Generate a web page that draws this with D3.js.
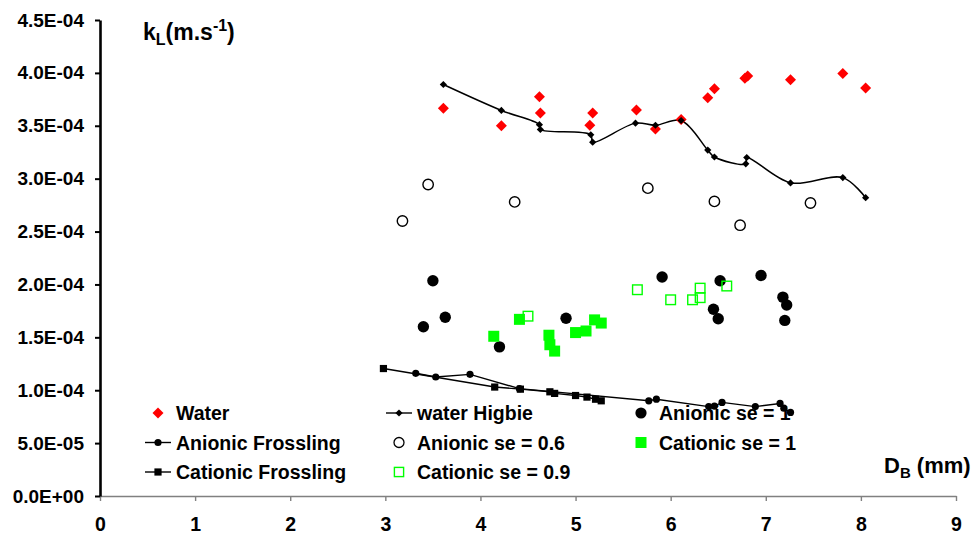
<!DOCTYPE html>
<html>
<head>
<meta charset="utf-8">
<script src="https://cdn.jsdelivr.net/npm/d3@7"></script>
<style>
  html, body { margin: 0; padding: 0; background: #fff; }
  svg { display: block; font-family: "Liberation Sans", Arial, sans-serif; font-weight: bold; }
</style>
</head>
<body>
<svg id="chart" width="975" height="534"></svg>
<script>
// Bubble diameter D_B (mm) and liquid-side mass transfer coefficient k_L (m/s)
const waterX = [3.61, 4.22, 4.62, 4.63, 5.18, 5.15, 5.64, 5.84, 6.11, 6.39, 6.46, 6.78, 6.81, 7.26, 7.81, 8.05];
const waterY = [3.665e-4, 3.50e-4, 3.775e-4, 3.62e-4, 3.62e-4, 3.505e-4, 3.65e-4, 3.47e-4, 3.56e-4, 3.765e-4, 3.85e-4, 3.95e-4, 3.97e-4, 3.935e-4, 3.995e-4, 3.857e-4];

const higbieX = [3.61, 4.22, 4.62, 4.63, 5.16, 5.18, 5.63, 5.84, 6.11, 6.39, 6.46, 6.79, 6.80, 7.26, 7.81, 8.05];
const higbieY = [3.89e-4, 3.645e-4, 3.51e-4, 3.465e-4, 3.415e-4, 3.345e-4, 3.525e-4, 3.505e-4, 3.55e-4, 3.27e-4, 3.205e-4, 3.14e-4, 3.20e-4, 2.96e-4, 3.01e-4, 2.82e-4];

const anionic1X = [3.40, 3.50, 3.63, 4.20, 4.90, 5.91, 6.45, 6.50, 6.52, 6.95, 7.18, 7.22, 7.20];
const anionic1Y = [1.60e-4, 2.035e-4, 1.69e-4, 1.41e-4, 1.68e-4, 2.07e-4, 1.765e-4, 1.675e-4, 2.035e-4, 2.085e-4, 1.88e-4, 1.805e-4, 1.66e-4];

const anionic06X = [3.18, 3.45, 4.36, 5.76, 6.46, 6.73, 7.47];
const anionic06Y = [2.60e-4, 2.945e-4, 2.78e-4, 2.91e-4, 2.785e-4, 2.56e-4, 2.77e-4];

const cationic1X = [4.14, 4.41, 4.72, 4.73, 4.78, 5.00, 5.11, 5.20, 5.27];
const cationic1Y = [1.51e-4, 1.67e-4, 1.52e-4, 1.43e-4, 1.37e-4, 1.545e-4, 1.56e-4, 1.665e-4, 1.635e-4];

const cationic09X = [4.50, 5.65, 6.00, 6.23, 6.31, 6.31, 6.59];
const cationic09Y = [1.70e-4, 1.95e-4, 1.855e-4, 1.855e-4, 1.965e-4, 1.875e-4, 1.985e-4];

const anFrosX = [3.32, 3.53, 3.89, 4.41, 5.77, 5.85, 6.40, 6.46, 6.54, 6.89, 7.15, 7.19, 7.26];
const anFrosY = [1.16e-4, 1.125e-4, 1.15e-4, 1.015e-4, 9.0e-5, 9.15e-5, 8.45e-5, 8.5e-5, 8.85e-5, 8.45e-5, 8.75e-5, 8.3e-5, 7.9e-5];

const catFrosX = [2.98, 4.15, 4.42, 4.73, 4.78, 5.00, 5.12, 5.21, 5.27];
const catFrosY = [1.205e-4, 1.03e-4, 1.01e-4, 9.85e-5, 9.7e-5, 9.5e-5, 9.35e-5, 9.15e-5, 9.0e-5];

const xTicks = [0, 1, 2, 3, 4, 5, 6, 7, 8, 9];
const yTicks = [0, 5e-5, 1e-4, 1.5e-4, 2e-4, 2.5e-4, 3e-4, 3.5e-4, 4e-4, 4.5e-4];
const yTickLabels = ["0.0E+00", "5.0E-05", "1.0E-04", "1.5E-04", "2.0E-04", "2.5E-04", "3.0E-04", "3.5E-04", "4.0E-04", "4.5E-04"];

const legendLabels = ["Water", "water Higbie", "Anionic se = 1", "Anionic Frossling", "Anionic se = 0.6", "Cationic se = 1", "Cationic Frossling", "Cationic se = 0.9"];

const svg = d3.select("#chart");
const x = d3.scaleLinear().domain([0, 9]).range([100, 956]);
const y = d3.scaleLinear().domain([0, 4.5e-4]).range([496, 20]);
const FS = 19.5;
const FONT = "Liberation Sans, Arial, sans-serif";

// x axis (grey)
const xAxis = svg.append("g")
  .attr("transform", `translate(0,${y(0)})`)
  .call(d3.axisBottom(x).tickValues(xTicks).tickFormat(d3.format("d")).tickSize(5).tickPadding(16).tickSizeOuter(0));
xAxis.select(".domain").attr("stroke", "#808080").attr("stroke-width", 1.6);
xAxis.selectAll(".tick line").attr("stroke", "#808080").attr("stroke-width", 1.4);
xAxis.selectAll("text").attr("font-size", FS).attr("font-family", FONT).attr("font-weight", "bold").attr("fill", "#000");

// y axis (black)
const yAxis = svg.append("g")
  .attr("transform", `translate(${x(0)},0)`)
  .call(d3.axisLeft(y).tickValues(yTicks).tickFormat((d, i) => yTickLabels[i]).tickSize(5).tickPadding(11).tickSizeOuter(0));
yAxis.select(".domain").attr("stroke", "#000").attr("stroke-width", 2.6);
yAxis.selectAll(".tick line").attr("stroke", "#000").attr("stroke-width", 2);
yAxis.selectAll("text").attr("font-size", 19).attr("font-family", FONT).attr("font-weight", "bold").attr("fill", "#000");

// axis titles
const yTitle = svg.append("text").attr("x", 143).attr("y", 40).attr("font-size", 23);
yTitle.append("tspan").text("k");
yTitle.append("tspan").attr("font-size", 16).attr("dy", 5).text("L");
yTitle.append("tspan").attr("dy", -5).text("(m.s");
yTitle.append("tspan").attr("font-size", 16).attr("dy", -9).text("-1");
yTitle.append("tspan").attr("dy", 9).text(")");

const xTitle = svg.append("text").attr("x", 884).attr("y", 473).attr("font-size", 22);
xTitle.append("tspan").text("D");
xTitle.append("tspan").attr("font-size", 15).attr("dy", 5).text("B");
xTitle.append("tspan").attr("dy", -5).text(" (mm)");

function diamondPath(r) { return `M0,${-r}L${r},0L0,${r}L${-r},0Z`; }

// legend
const legCols = [158, 399, 641];
const legRows = [413, 442.5, 472];
const legend = svg.append("g").attr("font-size", FS);
const legendItems = [
  { col: 0, row: 0, kind: "waterDiamond" },
  { col: 1, row: 0, kind: "higbie" },
  { col: 2, row: 0, kind: "fillCircle" },
  { col: 0, row: 1, kind: "anFros" },
  { col: 1, row: 1, kind: "openCircle" },
  { col: 2, row: 1, kind: "greenSquare" },
  { col: 0, row: 2, kind: "catFros" },
  { col: 1, row: 2, kind: "openSquare" }
];
legendItems.forEach((it, i) => {
  const cx = legCols[it.col], cy = legRows[it.row];
  const g = legend.append("g").attr("transform", `translate(${cx},${cy})`);
  if (it.kind === "higbie" || it.kind === "anFros" || it.kind === "catFros") {
    g.append("line").attr("x1", -13).attr("x2", 13).attr("stroke", "#000").attr("stroke-width", 1.4);
  }
  if (it.kind === "waterDiamond") g.append("path").attr("d", diamondPath(5.5)).attr("fill", "#f00");
  if (it.kind === "higbie") g.append("path").attr("d", diamondPath(3.6)).attr("fill", "#000");
  if (it.kind === "fillCircle") g.append("circle").attr("r", 5.6).attr("fill", "#000");
  if (it.kind === "anFros") g.append("circle").attr("r", 3.6).attr("fill", "#000");
  if (it.kind === "openCircle") g.append("circle").attr("r", 5).attr("fill", "#fff").attr("stroke", "#000").attr("stroke-width", 1.3);
  if (it.kind === "greenSquare") g.append("rect").attr("x", -5.5).attr("y", -5.5).attr("width", 11).attr("height", 11).attr("fill", "#0f0");
  if (it.kind === "catFros") g.append("rect").attr("x", -3.6).attr("y", -3.6).attr("width", 7.2).attr("height", 7.2).attr("fill", "#000");
  if (it.kind === "openSquare") g.append("rect").attr("x", -4.6).attr("y", -4.6).attr("width", 9.2).attr("height", 9.2).attr("fill", "#fff").attr("stroke", "#0f0").attr("stroke-width", 1.4);
  legend.append("text").attr("x", cx + 18).attr("y", cy + 7).text(legendLabels[i]);
});

const zip = (xs, ys) => xs.map((v, i) => [v, ys[i]]);
const plot = svg.append("g");

// Frossling model lines
const straight = d3.line().x(d => x(d[0])).y(d => y(d[1]));
plot.append("path").datum(zip(catFrosX, catFrosY)).attr("d", straight).attr("fill", "none").attr("stroke", "#000").attr("stroke-width", 1.4);
plot.append("path").datum(zip(anFrosX, anFrosY)).attr("d", straight).attr("fill", "none").attr("stroke", "#000").attr("stroke-width", 1.4);
plot.selectAll(".cfros").data(zip(catFrosX, catFrosY)).join("rect")
  .attr("x", d => x(d[0]) - 3.6).attr("y", d => y(d[1]) - 3.6).attr("width", 7.2).attr("height", 7.2).attr("fill", "#000");
plot.selectAll(".afros").data(zip(anFrosX, anFrosY)).join("circle")
  .attr("cx", d => x(d[0])).attr("cy", d => y(d[1])).attr("r", 3.6).attr("fill", "#000");

// Higbie model (smoothed)
const smooth = d3.line().x(d => x(d[0])).y(d => y(d[1])).curve(d3.curveCatmullRom.alpha(0.5));
plot.append("path").datum(zip(higbieX, higbieY)).attr("d", smooth).attr("fill", "none").attr("stroke", "#000").attr("stroke-width", 1.5);

// Water measurements
plot.selectAll(".water").data(zip(waterX, waterY)).join("path")
  .attr("transform", d => `translate(${x(d[0])},${y(d[1])})`).attr("d", diamondPath(5.5)).attr("fill", "#f00");
plot.selectAll(".higbie").data(zip(higbieX, higbieY)).join("path")
  .attr("transform", d => `translate(${x(d[0])},${y(d[1])})`).attr("d", diamondPath(3.6)).attr("fill", "#000");

// Anionic surfactant
plot.selectAll(".an06").data(zip(anionic06X, anionic06Y)).join("circle")
  .attr("cx", d => x(d[0])).attr("cy", d => y(d[1])).attr("r", 5.2).attr("fill", "#fff").attr("stroke", "#000").attr("stroke-width", 1.4);
plot.selectAll(".an1").data(zip(anionic1X, anionic1Y)).join("circle")
  .attr("cx", d => x(d[0])).attr("cy", d => y(d[1])).attr("r", 5.7).attr("fill", "#000");

// Cationic surfactant
plot.selectAll(".cat09").data(zip(cationic09X, cationic09Y)).join("rect")
  .attr("x", d => x(d[0]) - 4.8).attr("y", d => y(d[1]) - 4.8).attr("width", 9.6).attr("height", 9.6)
  .attr("fill", "none").attr("stroke", "#0f0").attr("stroke-width", 1.4);
plot.selectAll(".cat1").data(zip(cationic1X, cationic1Y)).join("rect")
  .attr("x", d => x(d[0]) - 5.5).attr("y", d => y(d[1]) - 5.5).attr("width", 11).attr("height", 11).attr("fill", "#0f0");
</script>
</body>
</html>
